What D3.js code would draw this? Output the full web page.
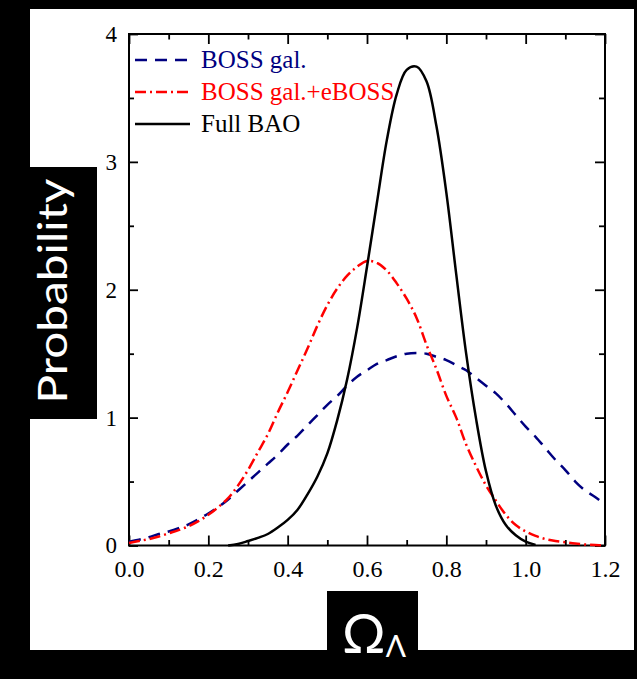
<!DOCTYPE html>
<html>
<head>
<meta charset="utf-8">
<script src="https://cdn.jsdelivr.net/npm/d3@7"></script>
<style>
  html, body { margin: 0; padding: 0; background: #000; }
  svg { display: block; }
</style>
</head>
<body>
<svg id="chart" width="637" height="679"></svg>
<script>
// ---- data ----
const omega = [0.000, 0.025, 0.050, 0.075, 0.100, 0.125, 0.150, 0.175, 0.200, 0.225,
  0.250, 0.275, 0.300, 0.325, 0.350, 0.375, 0.400, 0.425, 0.450, 0.475,
  0.500, 0.525, 0.550, 0.575, 0.600, 0.625, 0.650, 0.675, 0.700, 0.725,
  0.750, 0.775, 0.800, 0.825, 0.850, 0.875, 0.900, 0.925, 0.950, 0.975,
  1.000, 1.025, 1.050, 1.075, 1.100, 1.125, 1.150, 1.175, 1.200];

const bossGal = [0.03, 0.045, 0.065, 0.09, 0.11, 0.135, 0.165, 0.205, 0.25, 0.30,
  0.36, 0.43, 0.50, 0.57, 0.64, 0.71, 0.79, 0.86, 0.94, 1.02,
  1.10, 1.17, 1.25, 1.32, 1.37, 1.42, 1.45, 1.48, 1.50, 1.505,
  1.50, 1.475, 1.45, 1.41, 1.37, 1.31, 1.25, 1.19, 1.11, 1.02,
  0.93, 0.85, 0.76, 0.67, 0.59, 0.50, 0.43, 0.38, 0.32];

const bossGalEboss = [0.02, 0.035, 0.05, 0.07, 0.095, 0.12, 0.15, 0.19, 0.24, 0.30,
  0.37, 0.47, 0.59, 0.73, 0.87, 1.04, 1.20, 1.37, 1.54, 1.72,
  1.88, 2.01, 2.11, 2.18, 2.225, 2.21, 2.15, 2.05, 1.93, 1.78,
  1.57, 1.38, 1.17, 1.00, 0.79, 0.62, 0.47, 0.35, 0.24, 0.16,
  0.11, 0.075, 0.05, 0.035, 0.025, 0.015, 0.008, 0.003, 0.0];

const fullBAO = [null, null, null, null, null, null, null, null, null, null,
  0.0, 0.012, 0.035, 0.06, 0.09, 0.14, 0.20, 0.28, 0.40, 0.54,
  0.72, 0.98, 1.30, 1.70, 2.18, 2.68, 3.17, 3.53, 3.72, 3.745,
  3.63, 3.28, 2.76, 2.12, 1.50, 0.99, 0.58, 0.31, 0.16, 0.08,
  0.03, 0.005, null, null, null, null, null, null, null];

const seriesNames = ["BOSS gal.", "BOSS gal.+eBOSS", "Full BAO"];
const seriesColors = ["#000080", "#ff0000", "#000000"];
const seriesDashes = ["12,8", "11,4,2,4", null];

const xMajorTicks = [0.0, 0.2, 0.4, 0.6, 0.8, 1.0, 1.2];
const xTickLabels = ["0.0", "0.2", "0.4", "0.6", "0.8", "1.0", "1.2"];
const xMinorTicks = [0.1, 0.3, 0.5, 0.7, 0.9, 1.1];
const yMajorTicks = [0, 1, 2, 3, 4];
const yTickLabels = ["0", "1", "2", "3", "4"];
const yMinorTicks = [0.5, 1.5, 2.5, 3.5];

const yTitle = "Probability";

// ---- drawing ----
const svg = d3.select("#chart");
const L = 129, R = 605, T = 34, B = 545.5;

svg.append("rect").attr("x", 0).attr("y", 0).attr("width", 637).attr("height", 679).attr("fill", "#000");
svg.append("rect").attr("x", 30).attr("y", 9).attr("width", 604).attr("height", 641).attr("fill", "#fff");

const x = d3.scaleLinear().domain([0, 1.2]).range([L, R]);
const y = d3.scaleLinear().domain([0, 4]).range([B, T]);

const serif = "'Liberation Serif', 'Times New Roman', serif";

function styleAxis(g) {
  g.select(".domain").remove();
  g.selectAll(".tick line").attr("stroke", "#000").attr("stroke-width", 1.8);
  g.selectAll(".tick text").attr("fill", "#000").attr("font-family", serif);
}

// bottom
svg.append("g").attr("transform", `translate(0,${B})`)
  .call(d3.axisBottom(x).tickValues(xMajorTicks).tickSize(-10).tickPadding(14.5)
    .tickFormat((d, i) => xTickLabels[i]))
  .call(styleAxis).call(g => g.selectAll(".tick text").attr("font-size", 24));
svg.append("g").attr("transform", `translate(0,${B})`)
  .call(d3.axisBottom(x).tickValues(xMinorTicks).tickSize(-5.5).tickFormat(""))
  .call(styleAxis);
// top
svg.append("g").attr("transform", `translate(0,${T})`)
  .call(d3.axisTop(x).tickValues(xMajorTicks).tickSize(-10).tickFormat(""))
  .call(styleAxis);
svg.append("g").attr("transform", `translate(0,${T})`)
  .call(d3.axisTop(x).tickValues(xMinorTicks).tickSize(-5.5).tickFormat(""))
  .call(styleAxis);
// left
svg.append("g").attr("transform", `translate(${L},0)`)
  .call(d3.axisLeft(y).tickValues(yMajorTicks).tickSize(-9).tickPadding(12)
    .tickFormat((d, i) => yTickLabels[i]))
  .call(styleAxis).call(g => g.selectAll(".tick text").attr("font-size", 23));
svg.append("g").attr("transform", `translate(${L},0)`)
  .call(d3.axisLeft(y).tickValues(yMinorTicks).tickSize(-5).tickFormat(""))
  .call(styleAxis);
// right
svg.append("g").attr("transform", `translate(${R},0)`)
  .call(d3.axisRight(y).tickValues(yMajorTicks).tickSize(-10).tickFormat(""))
  .call(styleAxis);
svg.append("g").attr("transform", `translate(${R},0)`)
  .call(d3.axisRight(y).tickValues(yMinorTicks).tickSize(-6).tickFormat(""))
  .call(styleAxis);

// frame
svg.append("rect").attr("x", L).attr("y", T).attr("width", R - L).attr("height", B - T)
  .attr("fill", "none").attr("stroke", "#000").attr("stroke-width", 2);

// curves
const allSeries = [bossGal, bossGalEboss, fullBAO];
const line = d3.line()
  .defined(d => d[1] !== null)
  .x(d => x(d[0])).y(d => y(Math.max(0, d[1])))
  .curve(d3.curveCatmullRom.alpha(0.5));

allSeries.forEach((vals, i) => {
  const pts = omega.map((o, k) => [o, vals[k]]);
  svg.append("path")
    .attr("d", line(pts))
    .attr("fill", "none")
    .attr("stroke", seriesColors[i])
    .attr("stroke-width", 2.5)
    .attr("stroke-dasharray", seriesDashes[i]);
});

// legend
const legY = [60, 92, 124];
seriesNames.forEach((name, i) => {
  svg.append("line").attr("x1", 135).attr("x2", 190).attr("y1", legY[i]).attr("y2", legY[i])
    .attr("stroke", seriesColors[i]).attr("stroke-width", 2.5)
    .attr("stroke-dasharray", seriesDashes[i]);
  svg.append("text").attr("x", 201).attr("y", legY[i] + 8.3)
    .attr("font-family", serif).attr("font-size", 25)
    .attr("fill", seriesColors[i]).text(name);
});

// y title box
svg.append("rect").attr("x", 0).attr("y", 167).attr("width", 97).attr("height", 252).attr("fill", "#000");
svg.append("text")
  .attr("transform", "translate(67,291) rotate(-90)")
  .attr("text-anchor", "middle")
  .attr("font-family", "Lato, 'Open Sans', sans-serif")
  .attr("font-size", 40)
  .attr("fill", "#fff")
  .attr("textLength", 225).attr("lengthAdjust", "spacingAndGlyphs")
  .text(yTitle);

// x title box
svg.append("rect").attr("x", 327).attr("y", 591).attr("width", 91).attr("height", 60).attr("fill", "#000");
const xt = svg.append("text")
  .attr("x", 342).attr("y", 653)
  .attr("font-family", "Lato, 'Open Sans', 'DejaVu Sans', sans-serif")
  .attr("fill", "#fff");
xt.append("tspan").attr("font-size", 54).text("Ω");
xt.append("tspan").attr("font-size", 30).attr("dy", 4).text("Λ");
</script>
</body>
</html>
